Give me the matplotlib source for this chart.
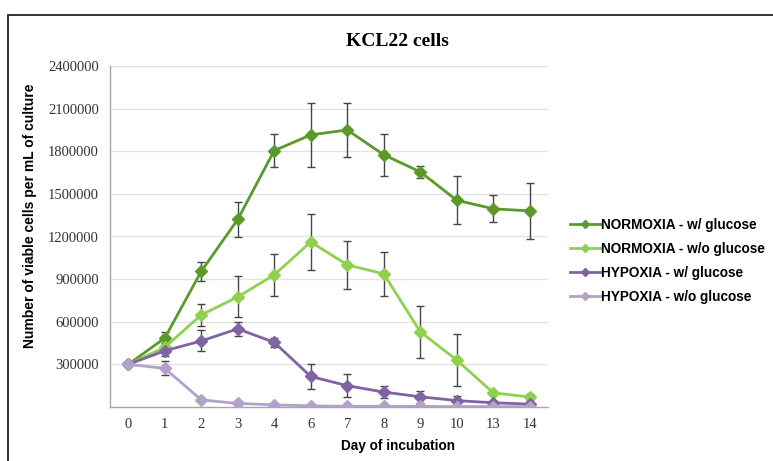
import matplotlib
matplotlib.use("Agg")
import matplotlib.pyplot as plt
from matplotlib.patches import Rectangle

days = ["0", "1", "2", "3", "4", "6", "7", "8", "9", "10", "13", "14"]

norm_glc = [300000, 485000, 955000, 1320000, 1805000, 1915000, 1950000, 1775000, 1655000, 1455000, 1395000, 1380000]
norm_glc_err = [0, 45000, 65000, 125000, 115000, 225000, 190000, 148000, 42000, 170000, 95000, 197000]

norm_noglc = [300000, 420000, 648000, 775000, 930000, 1162000, 1000000, 937000, 530000, 330000, 100000, 70000]
norm_noglc_err = [0, 30000, 80000, 145000, 150000, 195000, 170000, 155000, 183000, 183000, 10000, 20000]

hyp_glc = [300000, 395000, 465000, 550000, 455000, 215000, 150000, 105000, 72000, 45000, 30000, 20000]
hyp_glc_err = [0, 35000, 74000, 49000, 32000, 88000, 80000, 42000, 42000, 30000, 10000, 10000]

hyp_noglc = [300000, 272000, 50000, 25000, 15000, 8000, 5000, 5000, 4000, 3000, 3000, 3000]
hyp_noglc_err = [0, 50000, 0, 0, 0, 0, 0, 0, 0, 0, 0, 0]

labels = ["NORMOXIA - w/ glucose", "NORMOXIA - w/o glucose",
          "HYPOXIA - w/ glucose", "HYPOXIA - w/o glucose"]
colors = ["#5B9A2A", "#8FD14F", "#8064A2", "#B3A2C7"]
series = [(norm_glc, norm_glc_err), (norm_noglc, norm_noglc_err),
          (hyp_glc, hyp_glc_err), (hyp_noglc, hyp_noglc_err)]

fig = plt.figure(figsize=(7.73, 4.61), dpi=100)
ax = fig.add_axes([110/773, 1-407/461, 438/773, 341/461])

x = list(range(len(days)))
handles = []
for (vals, err), c, lab in zip(series, colors, labels):
    ax.errorbar(x, vals, yerr=err, fmt='none', ecolor='#454545', elinewidth=1.0,
                capsize=3, capthick=1.0, zorder=2)
    h, = ax.plot(x, vals, color=c, lw=2, marker='D', markersize=6.5,
                 markeredgecolor=c, label=lab, zorder=3)
    handles.append(h)

ax.set_xlim(-0.5, len(days) - 0.5)
ax.set_ylim(0, 2400000)
ax.set_xticks(x)
ax.set_xticklabels(days, family='Liberation Serif', fontsize=10.5, color='#333333')
yt = [300000, 600000, 900000, 1200000, 1500000, 1800000, 2100000, 2400000]
ax.set_yticks(yt)
ax.set_yticklabels([str(v) for v in yt], family='Liberation Serif', fontsize=10.5, color='#333333')
ax.tick_params(length=0, pad=8)
ax.yaxis.grid(True, color='#e3e3e3', lw=1)
ax.set_axisbelow(True)
for s in ['top', 'right']:
    ax.spines[s].set_visible(False)
for s in ['left', 'bottom']:
    ax.spines[s].set_color('#a6a6a6')
    ax.spines[s].set_linewidth(1)

fig.text(30/773, 1-216/461, "Number of viable cells per mL of culture", family='Liberation Sans',
         fontweight='bold', fontsize=10, rotation=90, ha='center', va='center')
fig.text(398/773, 1-446/461, "Day of incubation", family='Liberation Sans',
         fontweight='bold', fontsize=9.8, ha='center', va='center')
fig.text(397/773, 1-41/461, "KCL22 cells", family='Liberation Serif',
         fontweight='bold', fontsize=14, ha='center', va='center')

leg = fig.legend(handles=handles, labels=labels, loc='upper left',
                 bbox_to_anchor=(558/773, 1-206/461), frameon=False,
                 prop={'family': 'Liberation Sans', 'weight': 'bold', 'size': 9.8},
                 handlelength=2.2, handletextpad=0.05, labelspacing=0.72,
                 markerscale=0.6)

fig.patches.append(Rectangle((8/773, -0.1), 1.2, 1.1 - 15/461,
                             transform=fig.transFigure, fill=False,
                             edgecolor='#222222', lw=1.3))

fig.savefig("out.png", dpi=100)
